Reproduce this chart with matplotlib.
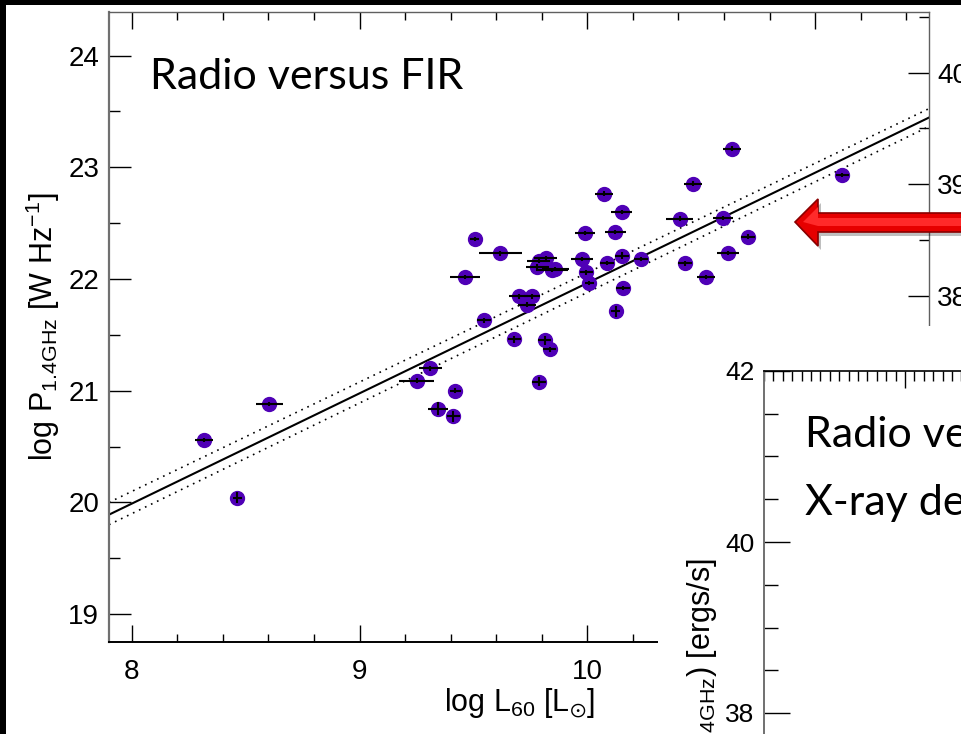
import numpy as np
import matplotlib
matplotlib.use('Agg')
import matplotlib.pyplot as plt
from matplotlib.patches import Polygon
from matplotlib.ticker import MultipleLocator, FixedLocator

# 数据: log L60 (x), log P1.4GHz (y), 以及误差
x = [8.316, 8.463, 8.604, 9.25, 9.31, 9.344, 9.412, 9.42, 9.464, 9.505,
     9.547, 9.618, 9.68, 9.698, 9.735, 9.757, 9.78, 9.786, 9.787, 9.812,
     9.818, 9.834, 9.845, 9.86, 9.977, 9.99, 9.996, 10.009, 10.073, 10.085,
     10.123, 10.125, 10.151, 10.151, 10.156, 10.237, 10.406, 10.43, 10.463, 10.52,
     10.595, 10.618, 10.636, 10.705, 11.12]
y = [20.56, 20.04, 20.88, 21.09, 21.20, 20.84, 20.77, 21.00, 22.02, 22.36,
     21.63, 22.23, 21.46, 21.845, 21.77, 21.845, 22.11, 22.16, 21.08, 21.45,
     22.19, 21.37, 22.08, 22.09, 22.18, 22.41, 22.06, 21.965, 22.765, 22.144,
     22.42, 21.71, 22.60, 22.21, 21.92, 22.18, 22.54, 22.14, 22.854, 22.02,
     22.545, 22.234, 23.167, 22.38, 22.93]
xerr = [0.04, 0.02, 0.06, 0.075, 0.05, 0.045, 0.03, 0.025, 0.066, 0.02,
        0.03, 0.095, 0.03, 0.04, 0.04, 0.035, 0.05, 0.05, 0.03, 0.03,
        0.05, 0.03, 0.07, 0.06, 0.05, 0.045, 0.03, 0.02, 0.04, 0.03,
        0.045, 0.02, 0.045, 0.03, 0.03, 0.03, 0.06, 0.03, 0.04, 0.04,
        0.045, 0.05, 0.04, 0.03, 0.03]
yerr = [0.02, 0.05, 0.02, 0.02, 0.02, 0.06, 0.05, 0.02, 0.02, 0.02,
        0.02, 0.02, 0.03, 0.02, 0.02, 0.02, 0.02, 0.02, 0.04, 0.04,
        0.02, 0.02, 0.02, 0.02, 0.02, 0.02, 0.02, 0.02, 0.02, 0.02,
        0.02, 0.05, 0.02, 0.03, 0.02, 0.02, 0.02, 0.02, 0.02, 0.02,
        0.02, 0.02, 0.02, 0.02, 0.02]

# 拟合直线和上下界
fit_x = [7.9, 11.5]
fit_y = [19.89, 23.445]
fit_hi = [20.00, 23.525]
fit_lo = [19.80, 23.365]

W, H = 961, 734
plt.rcParams['font.family'] = ['Liberation Sans', 'DejaVu Sans']
plt.rcParams['mathtext.fontset'] = 'custom'
plt.rcParams['mathtext.rm'] = 'Liberation Sans'
plt.rcParams['mathtext.default'] = 'regular'

fig = plt.figure(figsize=(W / 100, H / 100), dpi=100, facecolor='black')


def rect(l, t, r, b):
    # 像素 -> figure 坐标
    return [l / W, 1 - b / H, (r - l) / W, (b - t) / H]


def pt(px, py):
    return (px / W, 1 - py / H)


# 白色幻灯片背景
bg = fig.add_axes(rect(6, 5, 961, 734), zorder=-10)
bg.set_facecolor('white')
bg.set_xticks([])
bg.set_yticks([])
for s in bg.spines.values():
    s.set_visible(False)

# 主图
ax = fig.add_axes(rect(109, 12, 929, 642), zorder=1)
ax.set_facecolor('none')
ax.plot(fit_x, fit_y, color='black', lw=1.5)
ax.plot(fit_x, fit_hi, color='black', lw=1.2, ls=(0, (1, 3)))
ax.plot(fit_x, fit_lo, color='black', lw=1.2, ls=(0, (1, 3)))
ax.plot(x, y, 'o', color='#4f00b6', ms=10, mec='#4f00b6', zorder=3)
ax.errorbar(x, y, xerr=xerr, yerr=yerr, fmt='none', ecolor='black',
            elinewidth=1.5, capsize=0, zorder=4)
ax.set_xlim(7.9, 11.5)
ax.set_ylim(18.75, 24.39)
ax.xaxis.set_major_locator(MultipleLocator(1))
ax.xaxis.set_minor_locator(MultipleLocator(0.2))
ax.yaxis.set_major_locator(MultipleLocator(1))
ax.yaxis.set_minor_locator(MultipleLocator(0.5))
ax.tick_params(which='both', direction='in', top=True, right=False,
               labelsize=20, colors='black')
ax.tick_params(axis='x', which='major', length=12, width=1, pad=12)
ax.tick_params(axis='x', which='minor', length=6, width=1)
ax.tick_params(axis='y', which='major', length=16, width=1, pad=7)
ax.tick_params(axis='y', which='minor', length=8, width=1)
ax.spines['left'].set_color('#707070')
ax.spines['left'].set_linewidth(1.6)
ax.spines['bottom'].set_color('black')
ax.spines['bottom'].set_linewidth(1.4)
ax.spines['top'].set_color('#606060')
ax.spines['top'].set_linewidth(1.0)
ax.spines['right'].set_visible(False)
ax.set_xlabel(r'log L$_{60}$ [L$_{\odot}$]', fontsize=22)
ax.xaxis.set_label_coords(0.5, -0.07)
ax.set_ylabel(r'log P$_{1.4GHz}$ [W Hz$^{-1}$]', fontsize=22)
ax.yaxis.set_label_coords((62 - 109) / 820, 0.5)

# 右侧被遮住的另一张图的坐标轴
ax2 = ax.twinx()
ax2.set_zorder(2)
ax2.set_ylim(18.75 + 16.152, 24.39 + 16.152)
ax2.yaxis.set_major_locator(FixedLocator([38, 39, 40]))
ax2.yaxis.set_minor_locator(MultipleLocator(0.5))
ax2.tick_params(axis='y', which='major', direction='in', length=15, width=1,
                labelsize=20, pad=6)
ax2.tick_params(axis='y', which='minor', direction='in', length=7, width=1)
ax2.spines['right'].set_color('#606060')
ax2.spines['right'].set_linewidth(1.0)
for s in ['left', 'top', 'bottom']:
    ax2.spines[s].set_visible(False)

fig.text(150 / W, 1 - 89 / H, 'Radio versus FIR', fontsize=31,
         family=['Lato', 'DejaVu Sans'], va='baseline', ha='left', zorder=10)

# 右下角叠放的图
cover = fig.add_axes(rect(658, 326, 961, 734), zorder=5)
cover.set_facecolor('white')
cover.set_xticks([])
cover.set_yticks([])
for s in cover.spines.values():
    s.set_visible(False)

ax3 = fig.add_axes(rect(764, 371, 1164, 900), zorder=6)
ax3.set_facecolor('white')
ax3.set_xlim(37.0, 37.0 + 400 / 94)
ax3.set_ylim(42 - 529 / 85.5, 42)
ax3.xaxis.set_major_locator(FixedLocator([38.5, 40.0]))
ax3.xaxis.set_minor_locator(MultipleLocator(0.1))
ax3.yaxis.set_major_locator(MultipleLocator(2))
ax3.yaxis.set_minor_locator(MultipleLocator(0.5))
ax3.tick_params(which='both', direction='in', top=True, bottom=False,
                labelbottom=False, labelsize=19)
ax3.tick_params(axis='x', which='major', length=12, width=1)
ax3.tick_params(axis='x', which='minor', length=7, width=1)
ax3.tick_params(axis='y', which='major', length=19, width=1, pad=7)
ax3.tick_params(axis='y', which='minor', length=10, width=1)
ax3.spines['left'].set_color('#707070')
ax3.spines['left'].set_linewidth(1.4)
ax3.spines['top'].set_color('black')
ax3.spines['top'].set_linewidth(1.2)
ax3.set_ylabel(r'log(L$_{1.4GHz}$) [ergs/s]', fontsize=22)
ax3.yaxis.set_label_coords((719 - 764) / 400, (900 - 688) / 529)

fig.text(805 / W, 1 - 447 / H, 'Radio versus', fontsize=31,
         family=['Lato', 'DejaVu Sans'], va='baseline', zorder=10)
fig.text(805 / W, 1 - 515 / H, 'X-ray detected', fontsize=31,
         family=['Lato', 'DejaVu Sans'], va='baseline', zorder=10)

# 红色箭头
arrow_px = [(795, 222), (818, 199), (818, 213), (965, 213),
            (965, 232), (818, 232), (818, 246)]
shadow = Polygon([pt(a + 3, b + 4) for a, b in arrow_px], closed=True,
                 transform=fig.transFigure, facecolor='#000000', alpha=0.25,
                 edgecolor='none', zorder=8)
fig.patches.append(shadow)
arrow = Polygon([pt(a, b) for a, b in arrow_px], closed=True,
                transform=fig.transFigure, facecolor='#e60000',
                edgecolor='#8a0000', lw=1.2, zorder=9)
fig.patches.append(arrow)
hl = Polygon([pt(a, b) for a, b in [(803, 222), (818, 207), (818, 218), (965, 218),
                                    (965, 226), (818, 226)]],
             closed=True, transform=fig.transFigure, facecolor='#ff2a2a',
             edgecolor='none', zorder=9)
fig.patches.append(hl)

fig.savefig('out.png', dpi=100, facecolor='black')
